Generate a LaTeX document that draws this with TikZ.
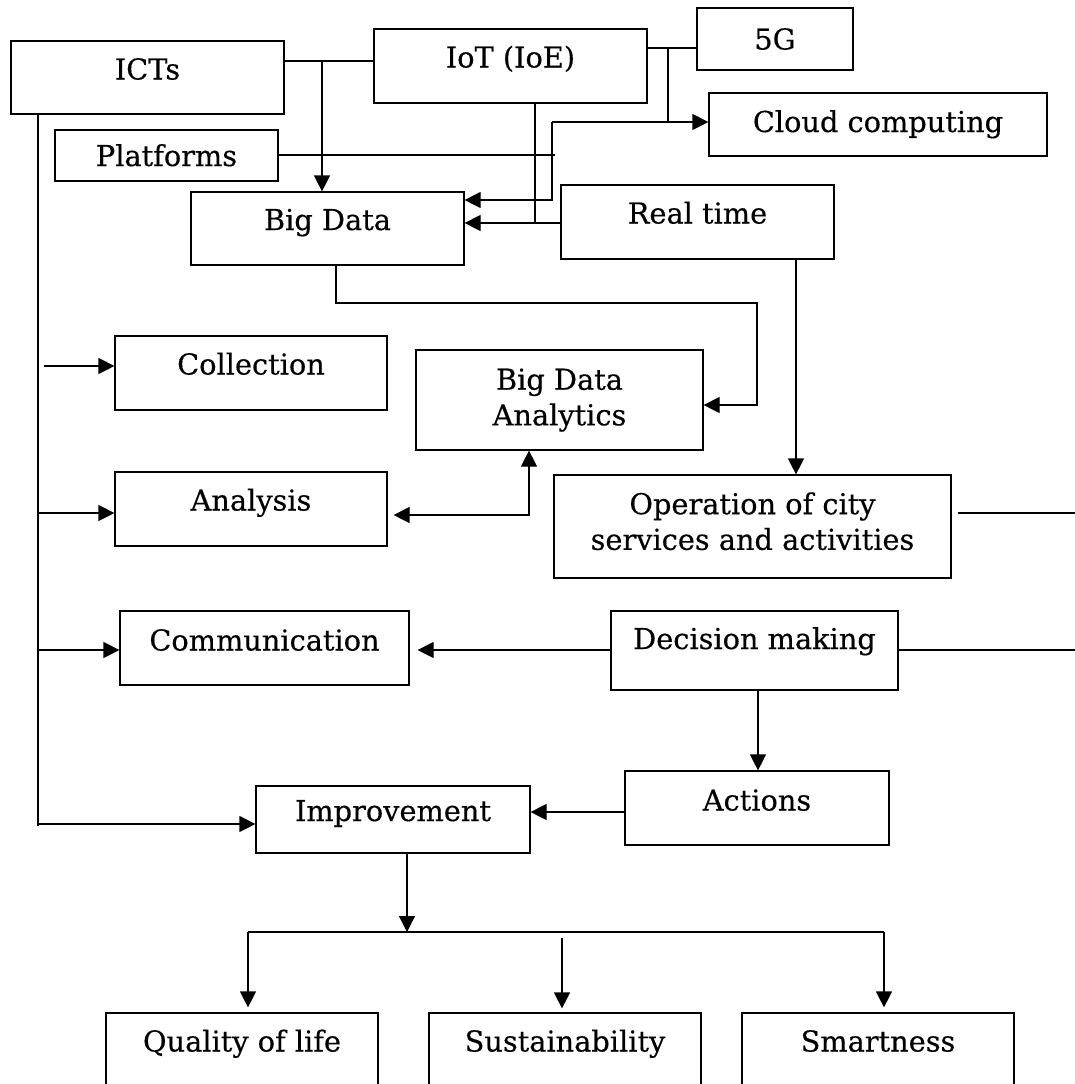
\documentclass[tikz,border=0pt]{standalone}
\usepackage{fontspec}
\setmainfont{DejaVu Serif}[BoldFont={DejaVu Serif}, BoldFeatures={FakeBold=0.35}]
\usetikzlibrary{arrows.meta}
\begin{document}
\begin{tikzpicture}[x=0.5pt,y=-0.5pt,
  font=\fontsize{14.4}{17.8}\selectfont\bfseries,
  line width=0.6pt,
  % box given by its corners (x1,y1,x2,y2) and how far the text sits above centre
  bx/.style n args={5}{draw, inner sep=0pt, align=center,
    text height=10.5pt, text depth=#5pt,
    minimum width=(#3-#1)*0.5pt, minimum height=(#4-#2)*0.5pt,
    at={({(#1+#3)/2},{(#2+#4)/2})}},
  twoline/.style={text height=28.3pt},
  arr/.style={-{Triangle[length=8pt,width=8pt]}},
  arrboth/.style={{Triangle[length=8pt,width=8pt]}-{Triangle[length=8pt,width=8pt]}}
]
\useasboundingbox (0,0) rectangle (1075,1084);
\fill[white] (0,0) rectangle (1075,1084);
\clip (0,0) rectangle (1075,1084);

% ---- boxes ----
\node[bx={11}{41}{284}{114}{8.5}] (icts) {ICTs};
\node[bx={374}{29}{647}{103}{9}] (iot) {IoT (IoE)};
\node[bx={697}{8}{853}{70}{0}] (g5) {5G};
\node[bx={709}{93}{1047}{156}{3}] (cloud) {Cloud computing};
\node[bx={55}{130}{278}{181}{0}] (platforms) {Platforms};
\node[bx={191}{192}{464}{265}{9}] (bigdata) {Big Data};
\node[bx={561}{185}{834}{259}{9}] (realtime) {Real time};
\node[bx={115}{336}{387}{410}{9}] (collection) {Collection};
\node[bx={416}{350}{703}{450}{3},twoline] (bda) {Big Data\\Analytics};
\node[bx={115}{472}{387}{546}{9}] (analysis) {Analysis};
\node[bx={554}{475}{951}{578}{5},twoline] (operation) {Operation of city\\services and activities};
\node[bx={120}{611}{409}{685}{8}] (communication) {Communication};
\node[bx={611}{611}{898}{690}{12}] (decision) {Decision making};
\node[bx={625}{771}{889}{845}{8}] (actions) {Actions};
\node[bx={256}{786}{530}{853}{9}] (improvement) {Improvement};
\node[bx={106}{1013}{378}{1087}{9}] (quality) {Quality of life};
\node[bx={429}{1013}{701}{1087}{9}] (sustain) {Sustainability};
\node[bx={742}{1013}{1014}{1087}{9}] (smart) {Smartness};

% ---- ICTs, IoT and the feeds into Big Data ----
\coordinate (jA) at (322,61);
\draw (icts.east |- jA) -- (iot.west |- jA);
\draw[arr] (jA) -- (jA |- bigdata.north);

\coordinate (jB) at (668,48);
\coordinate (jC) at (552,122);
\coordinate (jD) at (552,200);
\draw (iot.east |- jB) -- (g5.west |- jB);
\draw (jB) -- (jB |- jC);
\draw[arr] (jC) -- (cloud.west |- jC);
\draw[arr] (jC) -- (jD) -- (bigdata.east |- jD);

\coordinate (jE) at (535,223);
\draw (jE |- iot.south) -- (jE);
\draw[arr] (realtime.west |- jE) -- (bigdata.east |- jE);

\coordinate (jF) at (555,155);
\draw (platforms.east |- jF) -- (jF);

% ---- analytics ----
\coordinate (jG) at (336,303);
\coordinate (jH) at (757,405);
\draw[arr] (jG |- bigdata.south) -- (jG) -- (jH |- jG) -- (jH) -- (bda.east |- jH);

\coordinate (jJ) at (529,515);
\draw[arrboth, shorten <=3pt] (analysis.east |- jJ) -- (jJ) -- (jJ |- bda.south);

% ---- operation and decisions ----
\coordinate (jI) at (796,0);
\draw[arr] (realtime.south -| jI) -- (operation.north -| jI);

\coordinate (jK) at (1075,513);
\draw[shorten <=3pt] (operation.east |- jK) -- (jK);

\coordinate (jL) at (1075,650);
\draw[arr, shorten >=4pt] (decision.west |- jL) -- (communication.east |- jL);
\draw (decision.east |- jL) -- (jL);

\coordinate (jM) at (758,0);
\draw[arr] (decision.south -| jM) -- (actions.north -| jM);

\coordinate (jN) at (0,812);
\draw[arr] (actions.west |- jN) -- (improvement.east |- jN);

% ---- ICTs spine ----
\coordinate (sp) at (38,826);
\draw (sp |- icts.south) -- (sp);
\coordinate (s1) at (44,366);
\draw[arr] (s1) -- (collection.west |- s1);
\coordinate (s2) at (38,513);
\draw[arr] (s2) -- (analysis.west |- s2);
\coordinate (s3) at (38,650);
\draw[arr] (s3) -- (communication.west |- s3);
\coordinate (s4) at (38,824);
\draw[arr] (s4) -- (improvement.west |- s4);

% ---- outcomes ----
\coordinate (b0) at (407,932);
\coordinate (bL) at (248,932);
\coordinate (bR) at (884,932);
\coordinate (bM) at (562,938);
\draw[arr] (improvement.south -| b0) -- (b0);
\draw (bL) -- (bR);
\draw[arr, shorten >=2.5pt] (bL) -- (bL |- quality.north);
\draw[arr, shorten >=2pt] (bM) -- (bM |- sustain.north);
\draw[arr, shorten >=2.5pt] (bR) -- (bR |- smart.north);
\end{tikzpicture}
\end{document}
